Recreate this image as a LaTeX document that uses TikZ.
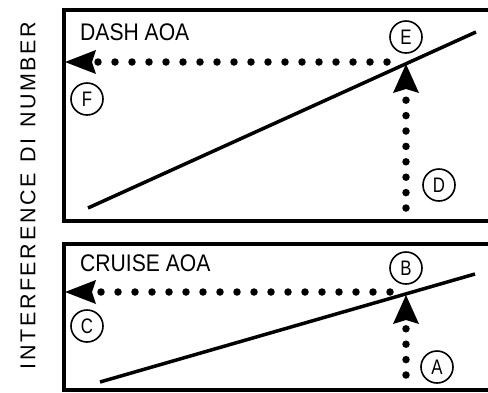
\documentclass[tikz,border=0pt]{standalone}
\usepackage{fontspec}
\setmainfont{Liberation Sans}
\usetikzlibrary{arrows.meta}
\begin{document}
\begin{tikzpicture}[x=1pt,y=-1pt,
  frame/.style={line width=3.2pt, line join=miter},
  curve/.style={line width=3.5pt},
  hdots/.style={line width=7.5pt, line cap=round, dash pattern=on 0pt off 17pt,
    -{Stealth[length=31pt,width=24pt,inset=4pt,line width=0pt]}},
  vdots/.style={line width=7.5pt, line cap=round, dash pattern=on 0pt off 15.4pt,
    -{Stealth[length=29pt,width=26pt,inset=4pt,line width=0pt]}},
  ptlabel/.style={draw, circle, line width=1.6pt, minimum size=32pt, inner sep=0pt,
    font=\fontsize{21}{21}\selectfont},
  title/.style={anchor=west, inner sep=0pt, font=\fontsize{24}{24}\selectfont},
  axislabel/.style={rotate=90, inner sep=0pt, font=\fontsize{21.5}{21.5}\selectfont}
]
\useasboundingbox (0,0) rectangle (488,392);

% axis label
\node[axislabel] (ylab) at (28,195.5) {\makebox[348pt][s]{I\hfill N\hfill T\hfill E\hfill R\hfill F\hfill E\hfill R\hfill E\hfill N\hfill C\hfill E\hfill\hspace{8pt}D\hfill I\hfill\hspace{8pt}N\hfill U\hfill M\hfill B\hfill E\hfill R}};

% ---------- top panel ----------
\draw[frame] (490,10) -- (64,10) -- (64,221) -- (490,221);
\node[title] (dash) at (80,32) {\scalebox{0.88}[1]{DASH AOA}};
\coordinate (t1) at (88,208);
\coordinate (t2) at (476,32);
\draw[curve] (t1) -- (t2);
\coordinate (Dstart) at (406,208);
\coordinate (Etip) at (406,64);
\coordinate (Hstart) at (387,62);
\coordinate (Ftip) at (65,62);
\draw[vdots] (Dstart) -- (Etip);
\draw[hdots] (Hstart) -- (Ftip);
\node[ptlabel] (E) at (406,37) {\scalebox{0.8}[1]{E}};
\node[ptlabel] (F) at (87,99) {\scalebox{0.8}[1]{F}};
\node[ptlabel] (D) at (439,185) {\scalebox{0.8}[1]{D}};

% ---------- bottom panel ----------
\draw[frame] (490,244) -- (64,244) -- (64,390) -- (490,390);
\node[title] (cruise) at (80,263) {\scalebox{0.88}[1]{CRUISE AOA}};
\coordinate (b1) at (100,382);
\coordinate (b2) at (475,274);
\draw[curve] (b1) -- (b2);
\coordinate (Astart) at (406,375);
\coordinate (Btip) at (406,295);
\coordinate (Hstart2) at (390,292);
\coordinate (Ctip) at (65,292);
\draw[vdots] (Astart) -- (Btip);
\draw[hdots] (Hstart2) -- (Ctip);
\node[ptlabel] (B) at (406,268) {\scalebox{0.8}[1]{B}};
\node[ptlabel] (C) at (87,326) {\scalebox{0.8}[1]{C}};
\node[ptlabel] (A) at (437,367) {\scalebox{0.8}[1]{A}};
\end{tikzpicture}
\end{document}
